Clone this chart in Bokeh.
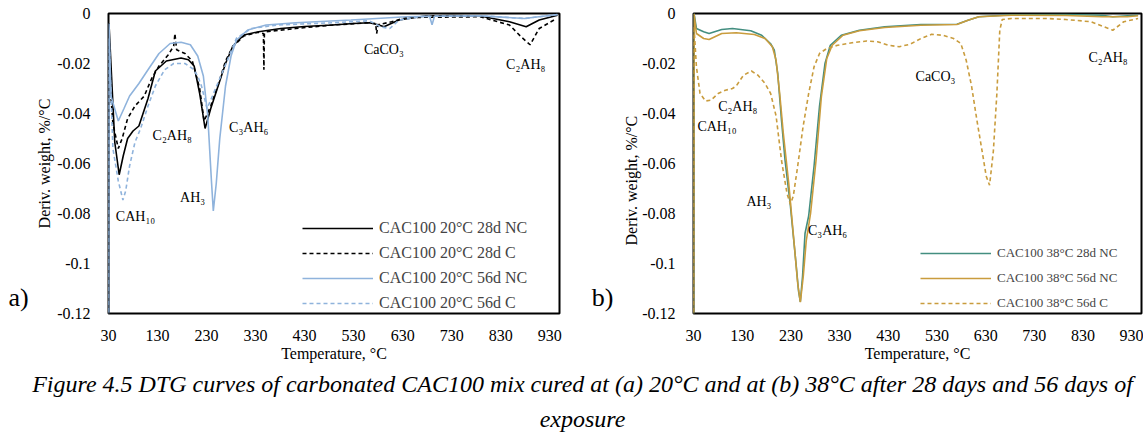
from bokeh.plotting import figure
from bokeh.models import Range1d, FixedTicker, Legend, LegendItem, Title
from bokeh.layouts import column, row
from bokeh.embed import file_html
from bokeh.resources import INLINE
from bokeh.core.properties import value

# ---------------- data ----------------
x_ticks = [30, 130, 230, 330, 430, 530, 630, 730, 830, 930]
y_ticks = [0, -0.02, -0.04, -0.06, -0.08, -0.1, -0.12]
y_tick_labels = ["0", "-0.02", "-0.04", "-0.06", "-0.08", "-0.1", "-0.12"]

# panel a) 20 C
a_nc28_T = [30, 31, 42.8, 51.8, 60, 69, 80, 92, 110.6, 125.6, 148, 178, 193, 204.7, 216, 227, 238.6, 253.6,
            268.7, 283.7, 306, 336, 381.6, 430, 487, 530, 562, 580, 592, 622.5, 675, 730, 788, 848, 882,
            908.6, 946]
a_nc28_v = [-0.125, -0.004, -0.0515, -0.0645, -0.057, -0.050, -0.047, -0.045, -0.034, -0.023, -0.019, -0.0178,
            -0.0185, -0.021, -0.032, -0.046, -0.038, -0.029, -0.020, -0.013, -0.0086, -0.0073, -0.006, -0.0052,
            -0.0046, -0.004, -0.0037, -0.0045, -0.0053, -0.0026, -0.001, -0.0008, -0.001, -0.0033, -0.0053,
            -0.0026, -0.0007]

a_c28_T = [30, 31, 33, 39, 50, 57.9, 69, 84, 103, 118, 133, 152, 163, 165.5, 169, 186, 201, 216, 225, 238.6,
           253.6, 268.7, 283.7, 306, 336, 346, 347, 348, 351.5, 411.7, 487, 562, 575, 577, 580, 607.5, 637.6,
           788, 848, 871, 890, 908.6, 938.7]
a_c28_v = [-0.125, -0.004, -0.028, -0.044, -0.054, -0.050, -0.042, -0.037, -0.033, -0.026, -0.021, -0.0165,
           -0.013, -0.008, -0.0145, -0.016, -0.019, -0.030, -0.043, -0.037, -0.0285, -0.019, -0.0132, -0.009,
           -0.0075, -0.008, -0.0225, -0.008, -0.0073, -0.006, -0.0046, -0.0037, -0.004, -0.008, -0.0045,
           -0.0033, -0.0016, -0.0013, -0.0046, -0.0092, -0.0125, -0.006, -0.0026]

a_nc56_T = [30, 31, 35, 50, 61.6, 73, 92, 110.6, 133, 155.7, 178, 197, 212, 223.5, 232.5, 240, 243.8, 249.8,
            257, 268.7, 280, 291, 314, 351.5, 411.7, 524.7, 637.6, 685, 690, 695, 788, 878.5, 946]
a_nc56_v = [-0.125, -0.004, -0.033, -0.043, -0.038, -0.033, -0.028, -0.0225, -0.016, -0.012, -0.0115, -0.0125,
            -0.017, -0.025, -0.041, -0.067, -0.079, -0.068, -0.050, -0.029, -0.017, -0.0106, -0.0066, -0.0046,
            -0.0037, -0.0026, -0.0013, -0.0011, -0.0045, -0.0011, -0.0009, -0.002, -0.0004]

a_c56_T = [30, 31, 39, 50, 59.4, 65, 73, 84, 95.5, 110.6, 125.6, 144.4, 163, 186, 201, 212, 219.7, 231, 242,
           257, 272, 291, 321, 374, 487, 562, 585, 604, 622.5, 675, 788, 878.5, 946]
a_c56_v = [-0.125, -0.01, -0.054, -0.067, -0.0746, -0.071, -0.061, -0.0515, -0.046, -0.037, -0.029, -0.0225,
           -0.020, -0.020, -0.022, -0.025, -0.029, -0.038, -0.033, -0.026, -0.019, -0.0099, -0.006, -0.0046,
           -0.0037, -0.0029, -0.0053, -0.006, -0.0026, -0.0011, -0.0009, -0.002, -0.0004]

# panel b) 38 C
b_nc28_T = [30, 31, 36, 50.8, 62, 88, 110, 147.5, 170, 188, 196, 203, 210.7, 218, 229, 240.5, 245.7, 249.4,
            254, 259, 266.5, 277.6, 288.8, 300, 311, 333.4, 370.6, 422.7, 497, 571, 593.7, 616, 683, 794.5,
            869, 891, 921, 943]
b_nc28_v = [-0.125, 0.0, -0.006, -0.0073, -0.008, -0.0064, -0.006, -0.0069, -0.0087, -0.012, -0.0147, -0.024,
            -0.0427, -0.0587, -0.077, -0.100, -0.111, -0.1153, -0.105, -0.088, -0.081, -0.061, -0.037, -0.020,
            -0.0127, -0.0087, -0.0067, -0.0053, -0.0044, -0.0043, -0.0027, -0.0013, -0.0005, -0.0004, -0.0007,
            -0.0013, -0.0009, -0.0007]

b_nc56_T = [30, 31, 36, 50.8, 62, 88, 117.8, 155, 177, 192, 199.6, 207, 214.5, 225.6, 236.7, 244, 249.4,
            255.5, 261.5, 270.4, 281.5, 292.6, 303.7, 314.8, 337, 370.6, 422.7, 497, 571, 593.7, 616, 683,
            794.5, 869, 921, 943]
b_nc56_v = [-0.125, 0.0, -0.008, -0.010, -0.0104, -0.008, -0.0077, -0.0084, -0.010, -0.0133, -0.0187, -0.032,
            -0.048, -0.068, -0.092, -0.108, -0.1155, -0.105, -0.091, -0.080, -0.059, -0.0333, -0.018, -0.0127,
            -0.0087, -0.0069, -0.0056, -0.0047, -0.0044, -0.0027, -0.0013, -0.0007, -0.0008, -0.0013, -0.0013,
            -0.0009]

b_c56_T = [30, 31, 36, 43.4, 54.5, 65.7, 80.6, 95.4, 110, 117.8, 132.6, 149, 162.4, 177, 188.4, 199.6, 210.7,
           222, 229, 235, 244, 255, 266.5, 277.6, 288.8, 303.7, 326, 355.7, 385.5, 407.8, 430, 452.4, 474.7,
           497, 519, 541.7, 564, 579, 590, 601, 612, 623.5, 631, 638, 645.8, 653, 659, 664, 683, 757, 794.5,
           846.6, 869, 891, 913.6, 943]
b_c56_v = [-0.125, -0.005, -0.0213, -0.032, -0.035, -0.0347, -0.032, -0.0307, -0.030, -0.029, -0.0247, -0.023,
           -0.0247, -0.028, -0.032, -0.041, -0.0587, -0.072, -0.0763, -0.073, -0.061, -0.0453, -0.032, -0.0213,
           -0.016, -0.0140, -0.0127, -0.0117, -0.011, -0.0113, -0.0127, -0.0133, -0.0123, -0.010, -0.0083,
           -0.0087, -0.010, -0.012, -0.0187, -0.029, -0.0427, -0.056, -0.065, -0.0687, -0.055, -0.032, -0.0067,
           -0.0024, -0.002, -0.002, -0.0024, -0.0033, -0.005, -0.0067, -0.0033, -0.002]

a_labels = ["CAC100 20°C 28d NC", "CAC100 20°C 28d C", "CAC100 20°C 56d NC", "CAC100 20°C 56d C"]
b_labels = ["CAC100 38°C 28d NC", "CAC100 38°C 56d NC", "CAC100 38°C 56d C"]

a_notes = ["CaCO₃", "C₂AH₈", "C₂AH₈", "C₃AH₆", "AH₃", "CAH₁₀"]
a_notes_T = [551, 841, 120, 276, 176, 45]
a_notes_v = [-0.0145, -0.0202, -0.0486, -0.0456, -0.0737, -0.0812]

b_notes = ["C₂AH₈", "CaCO₃", "C₂AH₈", "CAH₁₀", "AH₃", "C₃AH₆"]
b_notes_T = [841, 486, 80.6, 38, 138.6, 265]
b_notes_v = [-0.0176, -0.025, -0.037, -0.045, -0.0753, -0.0867]

panel_tags = ["a)", "b)"]
caption_lines = ["Figure 4.5 DTG curves of carbonated CAC100 mix cured at (a) 20°C and at (b) 38°C after 28 days and 56 days of",
                 "exposure"]

x_title = "Temperature, °C"
y_title = "Deriv. weight, %/°C"

# ---------------- styling ----------------
SERIF = "Liberation Serif"
BLACK = "#000000"
LBLUE = "#8FB3DC"
TEAL = "#438E80"
GOLD = "#C99C3D"
H = 370


def make_panel(width, bl, br, bt, bb):
    p = figure(width=width, height=H, x_range=Range1d(30, 950), y_range=Range1d(-0.12, 0),
               output_backend="svg", toolbar_location=None,
               min_border_left=bl, min_border_right=br, min_border_top=bt, min_border_bottom=bb)
    p.grid.visible = False
    p.outline_line_color = "black"
    p.outline_line_width = 2
    p.background_fill_color = "white"
    p.border_fill_color = "white"
    for ax in (p.xaxis[0], p.yaxis[0]):
        ax.axis_line_color = None
        ax.major_tick_line_color = None
        ax.minor_tick_line_color = None
        ax.major_label_text_font = SERIF
        ax.major_label_text_font_size = "16px"
        ax.major_label_text_color = "black"
        ax.axis_label_text_font = SERIF
        ax.axis_label_text_font_size = "16px"
        ax.axis_label_text_font_style = "normal"
        ax.axis_label_text_color = "black"
    p.xaxis.ticker = FixedTicker(ticks=x_ticks)
    p.yaxis.ticker = FixedTicker(ticks=y_ticks)
    p.yaxis.major_label_overrides = dict(zip(y_ticks, y_tick_labels))
    p.xaxis.major_label_standoff = 10
    p.xaxis.axis_label_standoff = 1
    p.yaxis.major_label_standoff = 12
    p.yaxis.axis_label_standoff = 1
    p.xaxis.axis_label = x_title
    return p


def notes(p, txt, xs, ys):
    p.text(x=xs, y=ys, text=txt, text_font=value(SERIF), text_font_size="14px",
           text_align="left", text_baseline="middle", text_color="black")


def make_legend(p, items, loc, fs):
    leg = Legend(items=items, location=loc, border_line_color=None, background_fill_alpha=0,
                 padding=0, margin=0, spacing=5, glyph_width=71, glyph_height=20, label_height=20,
                 label_standoff=6, label_text_font=SERIF, label_text_font_size=fs)
    p.add_layout(leg)


def tag_strip(width, tag, cx):
    f = figure(width=width, height=H, x_range=Range1d(0, width), y_range=Range1d(H, 0),
               output_backend="svg", toolbar_location=None, min_border=0,
               x_axis_location=None, y_axis_location=None)
    f.grid.visible = False
    f.outline_line_color = None
    f.text(x=[cx], y=[350], text=[tag], text_font=value(SERIF), text_font_size="26px",
           text_align="center", text_baseline="middle", text_color="black")
    return f


# ---- panel a ----
fa = tag_strip(32, panel_tags[0], 18)
p1 = make_panel(554, 76, 27, 13, 55)
p1.yaxis.axis_label = y_title
r1 = p1.line(a_nc28_T, a_nc28_v, line_color=BLACK, line_width=1.6)
r2 = p1.line(a_c28_T, a_c28_v, line_color=BLACK, line_width=1.6, line_dash="4 3")
r3 = p1.line(a_nc56_T, a_nc56_v, line_color=LBLUE, line_width=1.6)
r4 = p1.line(a_c56_T, a_c56_v, line_color=LBLUE, line_width=1.6, line_dash="4 3")
notes(p1, a_notes, a_notes_T, a_notes_v)
make_legend(p1, [LegendItem(label=l, renderers=[r]) for l, r in zip(a_labels, [r1, r2, r3, r4])],
            (194, 0), "16px")

# ---- panel b ----
fb = tag_strip(34, panel_tags[1], 16)
p2 = make_panel(523, 68, 2, 13, 57)
s1 = p2.line(b_nc28_T, b_nc28_v, line_color=TEAL, line_width=1.6)
s2 = p2.line(b_nc56_T, b_nc56_v, line_color=GOLD, line_width=1.6)
s3 = p2.line(b_c56_T, b_c56_v, line_color=GOLD, line_width=1.6, line_dash="4 3")
notes(p2, b_notes, b_notes_T, b_notes_v)
make_legend(p2, [LegendItem(label=l, renderers=[r]) for l, r in zip(b_labels, [s1, s2, s3])],
            (227, 0), "13px")
p2.add_layout(Title(text=y_title, align="left", offset=68, standoff=0, text_font=SERIF,
                    text_font_size="16px", text_font_style="normal", text_color="black"), "left")

# ---- caption ----
pc = figure(width=1143, height=70, x_range=Range1d(0, 1143), y_range=Range1d(70, 0),
            output_backend="svg", toolbar_location=None, min_border=0,
            x_axis_location=None, y_axis_location=None)
pc.grid.visible = False
pc.outline_line_color = None
pc.text(x=[582, 582], y=[13, 48], text=caption_lines, text_font=value(SERIF), text_font_size="24px",
        text_font_style="italic", text_align="center", text_baseline="middle", text_color="black")

layout = column(row(fa, p1, fb, p2), pc)
open("out.html", "w").write(file_html(layout, INLINE))
